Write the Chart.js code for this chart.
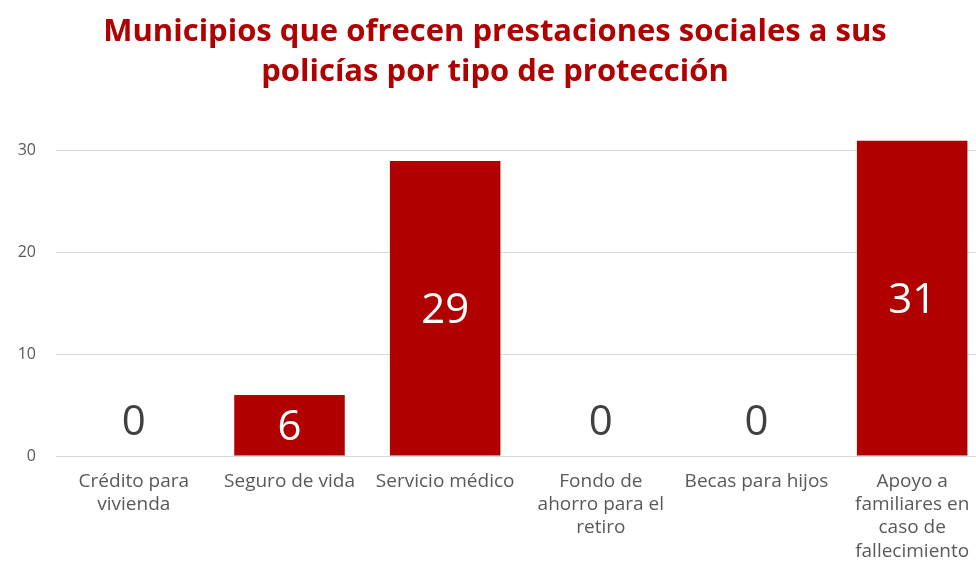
<!DOCTYPE html>
<html>
<head>
<meta charset="utf-8">
<script src="https://cdn.jsdelivr.net/npm/chart.js@4/dist/chart.umd.min.js"></script>
<style>
  html, body { margin: 0; padding: 0; background: #fff; overflow: hidden; }
  #wrap { width: 990px; height: 563px; position: relative; }
</style>
</head>
<body>
<div id="wrap"><canvas id="chart"></canvas></div>
<script>
// data
let categories = [
    ['Crédito para', 'vivienda'],
    ['Seguro de vida'],
    ['Servicio médico'],
    ['Fondo de', 'ahorro para el', 'retiro'],
    ['Becas para hijos'],
    ['Apoyo a', 'familiares en', 'caso de', 'fallecimiento']
];
let municipios = [0, 6, 29, 0, 0, 31];
let yTicks = [0, 10, 20, 30];
let chartTitle = ['Municipios que ofrecen prestaciones sociales a sus', 'policías por tipo de protección'];

let barColor = '#B00000';

// value labels: white inside bars, gray above axis when zero
let valueLabels = {
    id: 'valueLabels',
    afterDatasetsDraw(chart) {
        let ctx = chart.ctx;
        let meta = chart.getDatasetMeta(0);
        ctx.save();
        ctx.font = '42px "Open Sans"';
        ctx.textAlign = 'center';
        ctx.textBaseline = 'middle';
        meta.data.forEach((bar, i) => {
            let v = municipios[i];
            if (v > 0) {
                ctx.fillStyle = '#ffffff';
                ctx.fillText(v, bar.x, (bar.y + bar.base) / 2 + 3);
            } else {
                ctx.fillStyle = '#404040';
                ctx.fillText(v, bar.x, bar.base - 33);
            }
        });
        ctx.restore();
    }
};

new Chart(document.getElementById('chart').getContext('2d'), {
    type: 'bar',
    data: {
        labels: categories,
        datasets: [{
            data: municipios,
            backgroundColor: barColor,
            categoryPercentage: 1,
            barPercentage: 0.71
        }]
    },
    options: {
        responsive: true,
        maintainAspectRatio: false,
        animation: false,
        layout: { padding: 0 },
        plugins: {
            legend: { display: false },
            tooltip: { enabled: false },
            title: {
                display: true,
                text: chartTitle,
                color: barColor,
                font: { family: 'Open Sans', size: 31, weight: 'bold', lineHeight: 1.3 },
                padding: { top: 12, bottom: 48 }
            }
        },
        scales: {
            x: {
                afterFit: scale => { scale.height = 107; },
                grid: { display: false, drawTicks: false },
                border: { display: false },
                ticks: {
                    color: '#595959',
                    font: { family: 'Open Sans', size: 19, lineHeight: 1.22 },
                    padding: 14,
                    maxRotation: 0,
                    autoSkip: false
                }
            },
            y: {
                min: 0,
                max: 31,
                afterBuildTicks: scale => {
                    scale.ticks = yTicks.map(v => ({ value: v }));
                },
                afterFit: scale => { scale.width = 56; },
                grid: { color: '#d9d9d9', drawTicks: false, lineWidth: 1 },
                border: { display: false },
                ticks: {
                    color: '#595959',
                    font: { family: 'Open Sans', size: 16 },
                    padding: 20
                }
            }
        }
    },
    plugins: [valueLabels]
});
</script>
</body>
</html>
